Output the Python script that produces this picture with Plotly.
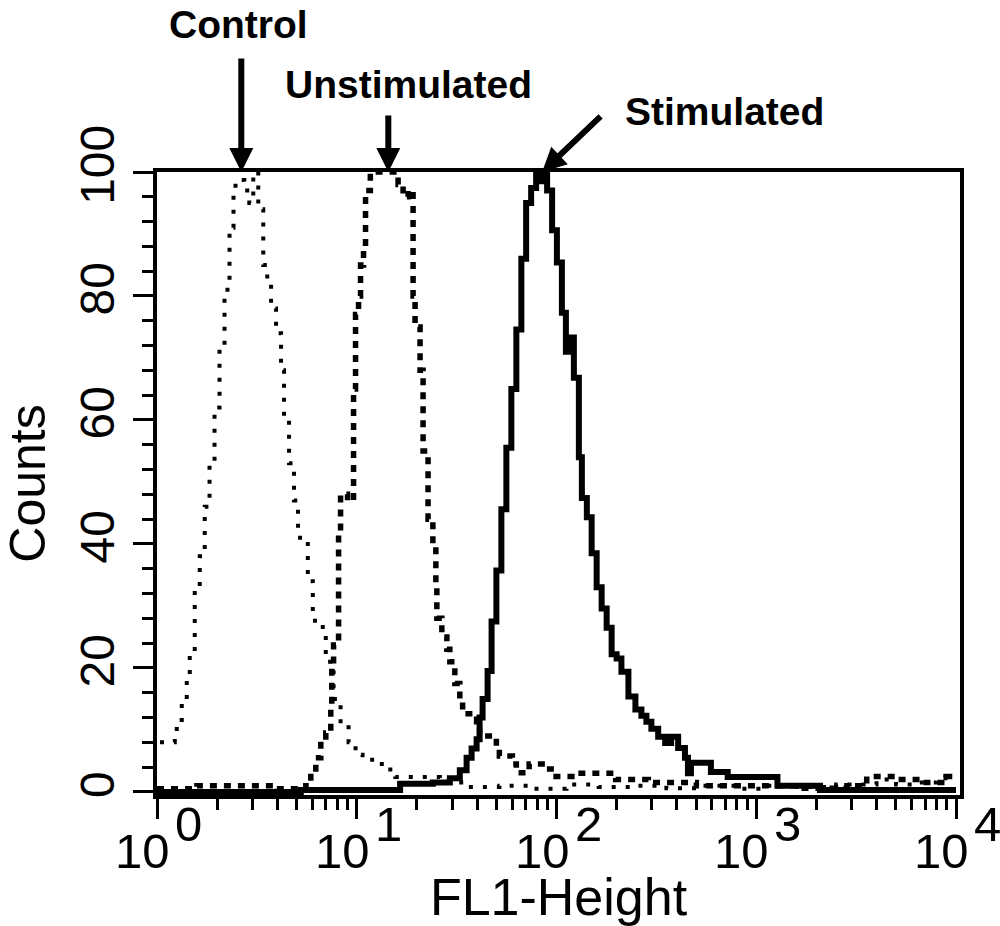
import plotly.graph_objects as go

# ---------------- data ----------------
# x positions are given as log10(FL1-Height), counts as read on the y axis
control_log_fl1 = [0.015, 0.089, 0.099, 0.124, 0.149, 0.164, 0.189, 0.214, 0.239, 0.263,
                   0.288, 0.313, 0.338, 0.363, 0.383, 0.393, 0.437, 0.462, 0.482, 0.507,
                   0.532, 0.552, 0.571, 0.596, 0.621, 0.636, 0.661, 0.686, 0.706, 0.755,
                   0.780, 0.830, 0.845, 0.884, 0.919, 0.959, 0.994, 1.029, 1.103, 1.168,
                   1.193, 1.317, 1.416, 1.550, 1.714, 1.900, 2.050, 2.211, 2.400, 2.550,
                   2.708, 2.900, 3.050, 3.205, 3.400, 3.602, 3.700, 3.801, 3.900, 3.990, 4.0]
control_counts = [8, 9.2, 11.6, 14.4, 18, 22, 33, 38, 46, 53,
                  62, 72, 81, 91, 96.4, 98.7, 97, 95, 100, 94,
                  85, 82.4, 78, 74, 68, 60, 53, 47, 41, 34,
                  27.6, 26.2, 21, 15, 11, 8, 6, 5.2, 4.5, 3,
                  2.4, 2.4, 1.5, 0.8, 1.0, 0.5, 1.2, 0.8, 1.0, 0.6,
                  1.0, 0.5, 1.0, 0.8, 1.2, 2.0, 1.2, 1.5, 2.2, 2.0, 2.0]

unstim_log_fl1 = [0.0, 0.2, 0.472, 0.6, 0.745, 0.770, 0.795, 0.820, 0.845, 0.870,
                  0.875, 0.884, 0.909, 0.919, 0.954, 0.984, 0.994, 1.009, 1.019, 1.034,
                  1.044, 1.068, 1.207, 1.232, 1.257, 1.282, 1.292, 1.317, 1.332, 1.357,
                  1.381, 1.396, 1.401, 1.426, 1.451, 1.466, 1.491, 1.516, 1.530, 1.600,
                  1.615, 1.699, 1.714, 1.779, 1.799, 1.863, 1.928, 1.998, 2.077, 2.261,
                  2.296, 2.460, 2.700, 2.957, 3.200, 3.454, 3.553, 3.702, 3.851, 3.950, 4.0]
unstim_counts = [0.5, 1.0, 1.0, 0.5, 1.0, 3, 5.5, 8.2, 9.5, 13.5,
                 20, 23.7, 42, 48, 47, 65, 77, 80, 85, 88,
                 97, 100, 98, 96, 97, 80, 75, 68, 55, 44,
                 40, 33, 28, 25, 23, 21, 17.5, 15, 12.6, 11.3,
                 9, 7.1, 5.8, 4.5, 3.1, 4.5, 3.7, 2.5, 3, 3,
                 2, 1.5, 1.0, 1.0, 0.6, 1.0, 2.5, 2.0, 1.5, 2.5, 2.5]

stim_log_fl1 = [0.0, 0.72, 1.217, 1.381, 1.466, 1.516, 1.550, 1.575, 1.600, 1.615,
                1.630, 1.655, 1.675, 1.699, 1.724, 1.749, 1.774, 1.799, 1.824, 1.848,
                1.873, 1.898, 1.918, 1.928, 1.953, 1.978, 2.002, 2.027, 2.047, 2.072,
                2.087, 2.112, 2.127, 2.152, 2.176, 2.201, 2.226, 2.251, 2.276, 2.301,
                2.325, 2.360, 2.395, 2.425, 2.450, 2.475, 2.509, 2.544, 2.574, 2.609,
                2.643, 2.658, 2.673, 2.773, 2.857, 3.106, 3.319, 4.0]
stim_counts = [0, 0.3, 1.3, 1.5, 2.2, 3.5, 5.5, 7, 8.5, 12,
               15, 19.5, 27.5, 35.7, 45.6, 55.5, 65, 74.6, 86, 95,
               97.4, 100, 98.5, 100, 97, 90.6, 85.4, 77.3, 71, 73.3,
               66.8, 54, 47.4, 44.3, 38.5, 33, 29.6, 26.5, 22.2, 21.5,
               19.4, 15.4, 13.3, 12.3, 11.3, 10.2, 8.9, 7.9, 8.9, 7.1,
               5.5, 3.0, 4.7, 3.2, 2.4, 1.0, 0.3, 0.3]

x_tick_exponents = [0, 1, 2, 3, 4]
y_tick_values = [0, 20, 40, 60, 80, 100]

label_names = ["Control", "Unstimulated", "Stimulated"]
label_tip_log_fl1 = [0.422, 1.158, 1.928]

# ---------------- figure ----------------
FONT = "Liberation Sans, Arial, Helvetica, sans-serif"
NARROW = "Liberation Sans Narrow, Arial Narrow, Liberation Sans, Arial, sans-serif"

fig = go.Figure()

series = [
    ("Control", control_log_fl1, control_counts, dict(width=4, dash="4px,10px")),
    ("Unstimulated", unstim_log_fl1, unstim_counts, dict(width=5.5, dash="7px,7px")),
    ("Stimulated", stim_log_fl1, stim_counts, dict(width=6, dash="solid")),
]
for name, lx, cnt, st in series:
    fig.add_trace(go.Scatter(
        x=[10 ** v for v in lx], y=cnt, mode="lines", name=name, showlegend=False,
        line=dict(shape="hv", color="black", width=st["width"], dash=st["dash"]),
    ))

minor_x = [m * 10 ** k for k in range(0, 4) for m in range(2, 10)]

fig.update_layout(
    width=1000, height=926,
    template="none",
    paper_bgcolor="white", plot_bgcolor="white",
    font=dict(family=FONT, color="black"),
    margin=dict(l=157, r=40, t=172, b=131),
    showlegend=False,
    xaxis=dict(
        type="log", range=[0, 4.02],
        showline=True, linecolor="black", linewidth=4, mirror=True,
        ticks="outside", ticklen=20, tickwidth=3, tickcolor="black",
        tickvals=[10 ** e for e in x_tick_exponents], showticklabels=False,
        showgrid=False, zeroline=False,
        minor=dict(ticks="outside", ticklen=11, tickwidth=3, tickcolor="black",
                   tickvals=minor_x, showgrid=False),
        title=dict(text="FL1-Height", font=dict(size=52, family=FONT), standoff=62),
    ),
    yaxis=dict(
        range=[-0.5, 100],
        showline=True, linecolor="black", linewidth=4, mirror=True,
        ticks="outside", ticklen=20, tickwidth=3, tickcolor="black",
        tickvals=y_tick_values, tickangle=-90,
        tickfont=dict(size=48, family=NARROW),
        showgrid=False, zeroline=False,
        minor=dict(ticks="outside", ticklen=11, tickwidth=3, tickcolor="black",
                   dtick=4, tick0=0, showgrid=False),
        title=dict(text="Counts", font=dict(size=50, family=FONT), standoff=22),
    ),
)

# x tick labels: "10" with a large exponent
for e in x_tick_exponents:
    fig.add_annotation(x=e, xref="x", y=0, yref="paper", text="10", showarrow=False,
                       xanchor="right", yanchor="top", xshift=15, yshift=-27,
                       font=dict(size=49, family=FONT))
    fig.add_annotation(x=e, xref="x", y=0, yref="paper", text=str(e), showarrow=False,
                       xanchor="left", yanchor="top", xshift=16, yshift=0,
                       font=dict(size=49, family=FONT))

# labels and arrows
label_text_pos = [(0.101, 1.237), (0.313, 1.14), (0.707, 1.097)]
arrow_offsets = [(0, -115), (0, -58), (60, -57)]
for name, tip, (px, py), (ax, ay) in zip(label_names, label_tip_log_fl1, label_text_pos, arrow_offsets):
    fig.add_annotation(x=px, y=py, xref="paper", yref="paper", text=f"<b>{name}</b>",
                       showarrow=False, xanchor="center", yanchor="middle",
                       font=dict(size=39, family=FONT))
    fig.add_annotation(x=tip, y=100, xref="x", yref="y", text="", showarrow=True,
                       ax=ax, ay=ay, axref="pixel", ayref="pixel",
                       arrowhead=2, arrowsize=0.8, arrowwidth=6, arrowcolor="black")

fig.write_html("out.html")
